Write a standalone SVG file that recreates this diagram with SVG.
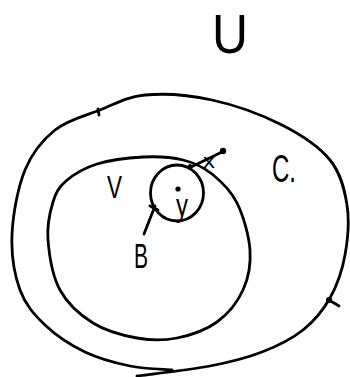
<svg xmlns="http://www.w3.org/2000/svg" width="350" height="377" viewBox="0 0 350 377">
<style>
.ln{fill:none;stroke:#000;stroke-width:2.8;stroke-linecap:round;stroke-linejoin:round}
.lb{font-family:"Liberation Sans",Arial,sans-serif;fill:#000}
.dt{fill:#000}
</style>
<rect width="350" height="377" fill="#fff"/>
<g id="U">
<text class="lb" x="212" y="53" font-size="56" textLength="36" lengthAdjust="spacingAndGlyphs">U</text>
</g>
<g id="C">
<path class="ln" d="M137,376 C149.2,374.3 189.2,370 210,366 C230.8,362 246.5,358 262,352 C277.5,346 291.7,339 303,330 C314.3,321 323,310.5 330,298 C337,285.5 342.2,270.5 345,255 C347.8,239.5 349.5,220.8 347,205 C344.5,189.2 340.8,173.3 330,160 C319.2,146.7 301.7,135 282,125 C262.3,115 234.8,105 212,100 C189.2,95 163.7,93.3 145,95 C126.3,96.7 115,104.2 100,110 C85,115.8 67.5,120 55,130 C42.5,140 32.2,152.5 25,170 C17.8,187.5 12.8,215 12,235 C11.2,255 14.5,275 20,290 C25.5,305 34.2,314.7 45,325 C55.8,335.3 70.8,345.2 85,352 C99.2,358.8 115.5,363 130,366 C144.5,369 165,369.3 172,370"/>
<path class="ln" d="M98,109 L99,115"/>
<circle class="dt" cx="329" cy="300" r="3"/>
<path class="ln" d="M329,300 L339,306"/>
<text class="lb" x="272" y="182" font-size="38" textLength="24" lengthAdjust="spacingAndGlyphs">C.</text>
</g>
<g id="V">
<path class="ln" d="M66,181 C73.3,174.7 84.2,168 97,164 C109.8,160 128.7,157.7 143,157 C157.3,156.3 171.5,157.2 183,160 C194.5,162.8 203,166.8 212,174 C221,181.2 230.7,190.3 237,203 C243.3,215.7 249,235.5 250,250 C251,264.5 248.5,278 243,290 C237.5,302 228,314 217,322 C206,330 190.3,335.3 177,338 C163.7,340.7 151,340.5 137,338 C123,335.5 105.8,331 93,323 C80.2,315 67.5,303.8 60,290 C52.5,276.2 49.2,254.7 48,240 C46.8,225.3 50,211.8 53,202 C56,192.2 58.7,187.3 66,181 L71,177"/>
<text class="lb" x="107" y="198" font-size="32" textLength="15" lengthAdjust="spacingAndGlyphs">V</text>
</g>
<g id="y">
<ellipse class="ln" cx="177" cy="193" rx="26.5" ry="28"/>
<circle class="dt" cx="178" cy="189" r="2.6"/>
<text class="lb" x="176" y="216" font-size="32" textLength="12" lengthAdjust="spacingAndGlyphs">y</text>
</g>
<g id="connectors">
<path class="ln" d="M189,168 L222,152"/>
<circle class="dt" cx="223" cy="151" r="3.2"/>
<circle class="dt" cx="190" cy="166" r="2"/>
<text class="lb" x="203" y="168" font-size="20" textLength="12" lengthAdjust="spacingAndGlyphs">x</text>
<path class="ln" d="M155,206 L144,234"/>
<path class="ln" d="M150,206 L158,210"/>
<text class="lb" x="134" y="268" font-size="35" textLength="14" lengthAdjust="spacingAndGlyphs">B</text>
</g>
</svg>
